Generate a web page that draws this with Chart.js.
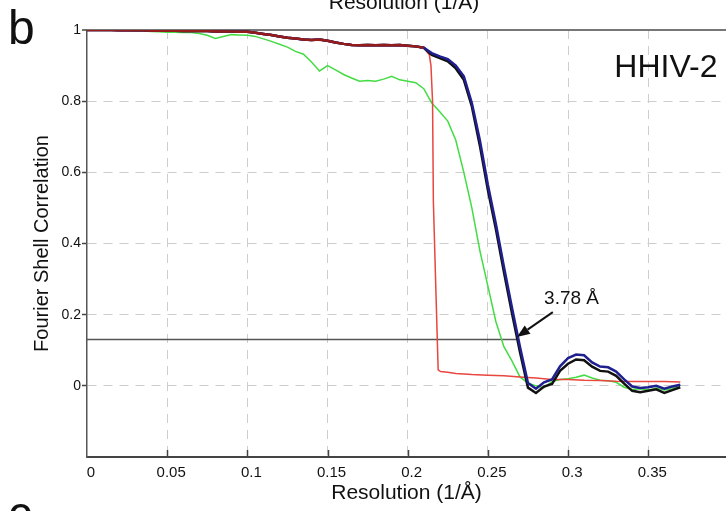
<!DOCTYPE html>
<html>
<head>
<meta charset="utf-8">
<script src="https://cdn.jsdelivr.net/npm/chart.js@4.4.0/dist/chart.umd.min.js"></script>
<style>
  html, body { margin: 0; padding: 0; background: #fff; }
  canvas { display: block; }
</style>
</head>
<body>
<canvas id="fscChart" width="726" height="511"></canvas>
<script>
// Fourier shell correlation curves
const resolution = [
  0, 0.005, 0.01, 0.015, 0.02, 0.025, 0.03, 0.035, 0.04, 0.045,
  0.05, 0.055, 0.06, 0.065, 0.07, 0.075, 0.08, 0.085, 0.09, 0.095,
  0.1, 0.105, 0.11, 0.115, 0.12, 0.125, 0.13, 0.135, 0.14, 0.145,
  0.15, 0.155, 0.16, 0.165, 0.17, 0.175, 0.18, 0.185, 0.19, 0.195,
  0.2, 0.205, 0.21, 0.215, 0.22, 0.225, 0.23, 0.235, 0.24, 0.245,
  0.25, 0.255, 0.26, 0.265, 0.27, 0.275, 0.28, 0.285, 0.29, 0.295,
  0.3, 0.305, 0.31, 0.315, 0.32, 0.325, 0.33, 0.335, 0.34, 0.345,
  0.35, 0.355, 0.36, 0.365, 0.37
];

// dark red curve, visible only up to where it joins the blue one
const fscDarkRed = [
  1.000, 1.000, 1.000, 1.000, 0.999, 0.999, 0.999, 0.999, 0.998, 0.998,
  0.998, 0.998, 0.997, 0.997, 0.997, 0.997, 0.996, 0.996, 0.996, 0.995,
  0.995, 0.992, 0.989, 0.986, 0.982, 0.978, 0.976, 0.973, 0.972, 0.973,
  0.970, 0.965, 0.961, 0.958, 0.957, 0.958, 0.957, 0.958, 0.957, 0.958,
  0.956, 0.954, 0.950
];

const fscBlue = [
  1.000, 1.000, 1.000, 1.000, 0.999, 0.999, 0.999, 0.999, 0.998, 0.998,
  0.998, 0.998, 0.997, 0.997, 0.997, 0.997, 0.996, 0.996, 0.996, 0.995,
  0.995, 0.992, 0.989, 0.986, 0.982, 0.978, 0.976, 0.973, 0.972, 0.973,
  0.970, 0.965, 0.961, 0.958, 0.957, 0.958, 0.957, 0.958, 0.957, 0.958,
  0.956, 0.954, 0.950, 0.935, 0.926, 0.918, 0.900, 0.870, 0.795, 0.690,
  0.565, 0.455, 0.335, 0.220, 0.110, 0.008, -0.008, 0.010, 0.018, 0.055,
  0.078, 0.088, 0.086, 0.066, 0.054, 0.052, 0.040, 0.018, -0.002, -0.006,
  -0.004, 0.000, -0.008, -0.002, 0.003
];

const fscBlack = [
  1.000, 1.000, 1.000, 1.000, 0.999, 0.999, 0.999, 0.999, 0.998, 0.998,
  0.998, 0.998, 0.997, 0.997, 0.997, 0.997, 0.996, 0.996, 0.996, 0.995,
  0.995, 0.992, 0.989, 0.986, 0.982, 0.978, 0.976, 0.973, 0.972, 0.973,
  0.970, 0.965, 0.961, 0.958, 0.957, 0.958, 0.957, 0.958, 0.957, 0.958,
  0.956, 0.954, 0.950, 0.930, 0.921, 0.912, 0.892, 0.860, 0.785, 0.675,
  0.550, 0.440, 0.320, 0.205, 0.095, -0.005, -0.020, -0.002, 0.005, 0.042,
  0.062, 0.074, 0.072, 0.054, 0.042, 0.040, 0.028, 0.006, -0.014, -0.018,
  -0.014, -0.010, -0.020, -0.012, -0.004
];

const fscGreen = [
  1.000, 1.000, 1.000, 1.000, 0.999, 0.999, 0.998, 0.997, 0.996, 0.995,
  0.994, 0.994, 0.993, 0.993, 0.990, 0.985, 0.976, 0.982, 0.987, 0.986,
  0.985, 0.982, 0.975, 0.968, 0.960, 0.952, 0.940, 0.932, 0.910, 0.885,
  0.900, 0.888, 0.875, 0.865, 0.856, 0.858, 0.856, 0.862, 0.870, 0.860,
  0.856, 0.852, 0.835, 0.795, 0.770, 0.744, 0.690, 0.600, 0.500, 0.380,
  0.280, 0.180, 0.110, 0.070, 0.025, 0.008, 0.000, -0.005, 0.012, 0.018,
  0.020, 0.024, 0.030, 0.022, 0.016, 0.014, 0.010, -0.004, -0.010, -0.008,
  -0.012, -0.006, -0.012, -0.008, 0.002
];

// light red curve has its own sampling around the sharp drop
const fscRedX = [
  0, 0.05, 0.1, 0.11, 0.12, 0.13, 0.14, 0.15, 0.16, 0.17,
  0.18, 0.19, 0.2, 0.21, 0.2135, 0.2145, 0.2155, 0.216, 0.2175, 0.219,
  0.2205, 0.225, 0.23, 0.24, 0.25, 0.26, 0.27, 0.28, 0.29, 0.3,
  0.31, 0.32, 0.33, 0.34, 0.35, 0.36, 0.37
];
const fscRedY = [
  1.000, 0.998, 0.995, 0.989, 0.982, 0.976, 0.972, 0.970, 0.961, 0.957,
  0.957, 0.957, 0.956, 0.950, 0.930, 0.900, 0.800, 0.520, 0.280, 0.045,
  0.040, 0.038, 0.035, 0.032, 0.030, 0.028, 0.025, 0.022, 0.018, 0.018,
  0.016, 0.015, 0.013, 0.012, 0.012, 0.012, 0.011
];

const thresholdX = [0, 0.268];
const thresholdY = [0.13, 0.13];

const xTicks = [0, 0.05, 0.1, 0.15, 0.2, 0.25, 0.3, 0.35];
const yTicks = [0, 0.2, 0.4, 0.6, 0.8, 1];

// annotation anchors (data units)
const arrowTail = { x: 0.2905, y: 0.207 };
const arrowHead = { x: 0.2681, y: 0.137 };
const resLabel = { x: 0.3022, y: 0.23, text: "3.78 Å" };
const sampleLabel = { x: 0.361, y: 0.8687, text: "HHIV-2" };

const fontFamily = "'Liberation Sans', Arial, Helvetica, sans-serif";

function toPoints(xs, ys) {
  return ys.map(function (y, i) {
    return { x: xs[i], y: y };
  });
}

// inside tick marks on the x axis plus the texts and the arrow
const decorations = {
  id: "decorations",
  afterDatasetsDraw(chart) {
    const { ctx, scales } = chart;
    const x = scales.x;
    const y = scales.y;

    ctx.save();
    ctx.strokeStyle = "#444";
    ctx.lineWidth = 1.5;
    xTicks.forEach(function (v) {
      if (v === 0) return;
      const px = Math.round(x.getPixelForValue(v)) + 0.5;
      ctx.beginPath();
      ctx.moveTo(px, y.bottom);
      ctx.lineTo(px, y.bottom - 7);
      ctx.stroke();
    });
    ctx.restore();
  },
  afterDraw(chart) {
    const { ctx, scales } = chart;
    const x = scales.x;
    const y = scales.y;

    ctx.save();
    ctx.fillStyle = "#111";
    ctx.textBaseline = "alphabetic";

    // panel letters and the title cut off from the panel above
    ctx.font = "48px " + fontFamily;
    ctx.textAlign = "left";
    ctx.fillText("b", 8, 44);
    ctx.fillText("c", 8, 530);

    ctx.font = "21px " + fontFamily;
    ctx.textAlign = "center";
    ctx.fillText("Resolution (1/Å)", 404, 9);

    // sample name
    ctx.font = "32px " + fontFamily;
    ctx.fillText(sampleLabel.text, x.getPixelForValue(sampleLabel.x), y.getPixelForValue(sampleLabel.y));

    // resolution label with arrow
    ctx.font = "19px " + fontFamily;
    ctx.fillText(resLabel.text, x.getPixelForValue(resLabel.x), y.getPixelForValue(resLabel.y));

    const tx = x.getPixelForValue(arrowTail.x);
    const ty = y.getPixelForValue(arrowTail.y);
    const hx = x.getPixelForValue(arrowHead.x);
    const hy = y.getPixelForValue(arrowHead.y);
    const ang = Math.atan2(hy - ty, hx - tx);
    const len = 13;
    const half = 5;
    const bx = hx - len * Math.cos(ang);
    const by = hy - len * Math.sin(ang);

    ctx.strokeStyle = "#111";
    ctx.lineWidth = 2;
    ctx.beginPath();
    ctx.moveTo(tx, ty);
    ctx.lineTo(bx, by);
    ctx.stroke();

    ctx.beginPath();
    ctx.moveTo(hx, hy);
    ctx.lineTo(bx + half * Math.sin(ang), by - half * Math.cos(ang));
    ctx.lineTo(bx - half * Math.sin(ang), by + half * Math.cos(ang));
    ctx.closePath();
    ctx.fill();
    ctx.restore();
  },
};

const ctx = document.getElementById("fscChart").getContext("2d");

new Chart(ctx, {
  type: "line",
  data: {
    datasets: [
      {
        label: "dark red",
        data: toPoints(resolution, fscDarkRed),
        borderColor: "#961c1c",
        borderWidth: 2.5,
      },
      {
        label: "blue",
        data: toPoints(resolution, fscBlue),
        borderColor: "#1f1f8f",
        borderWidth: 2.5,
      },
      {
        label: "black",
        data: toPoints(resolution, fscBlack),
        borderColor: "#111111",
        borderWidth: 2.5,
      },
      {
        label: "red",
        data: toPoints(fscRedX, fscRedY),
        borderColor: "#e8463f",
        borderWidth: 1.5,
      },
      {
        label: "green",
        data: toPoints(resolution, fscGreen),
        borderColor: "#43dc43",
        borderWidth: 1.5,
      },
      {
        label: "threshold",
        data: toPoints(thresholdX, thresholdY),
        borderColor: "#555555",
        borderWidth: 1.5,
      },
    ],
  },
  options: {
    responsive: false,
    animation: false,
    events: [],
    layout: {
      padding: { top: 30, right: 0, bottom: 0, left: 0 },
    },
    elements: {
      point: { radius: 0 },
      line: { tension: 0 },
    },
    plugins: {
      legend: { display: false },
      tooltip: { enabled: false },
    },
    scales: {
      x: {
        type: "linear",
        min: 0,
        max: 0.3985,
        afterBuildTicks: function (scale) {
          scale.ticks = xTicks.map(function (v) { return { value: v }; });
        },
        afterFit: function (scale) {
          scale.height = 54;
        },
        grid: {
          drawTicks: false,
          color: function (c) {
            return c.tick && c.tick.value === 0 ? "rgba(0,0,0,0)" : "#cdcdcd";
          },
          lineWidth: 1,
        },
        border: {
          display: true,
          color: "#444",
          width: 2,
          dash: [9, 7],
        },
        ticks: {
          autoSkip: false,
          maxRotation: 0,
          padding: 7,
          labelOffset: 4,
          color: "#111",
          font: { family: fontFamily, size: 15 },
          callback: function (value) {
            return String(value);
          },
        },
        title: {
          display: true,
          text: "Resolution (1/Å)",
          color: "#111",
          font: { family: fontFamily, size: 21 },
          padding: { top: 0, bottom: 5.5 },
        },
      },
      y: {
        min: -0.2,
        max: 1,
        afterBuildTicks: function (scale) {
          scale.ticks = yTicks.map(function (v) { return { value: v }; });
        },
        afterFit: function (scale) {
          scale.width = 87;
        },
        grid: {
          color: function (c) {
            return c.tick && c.tick.value === 1 ? "#777" : "#cdcdcd";
          },
          lineWidth: function (c) {
            return c.tick && c.tick.value === 1 ? 2 : 1;
          },
          drawTicks: true,
          tickLength: 5,
          tickColor: "#444",
          tickWidth: 1.5,
        },
        border: {
          display: true,
          color: "#555",
          width: 1.5,
          dash: function (c) {
            return c.tick && c.tick.value === 1 ? [] : [9, 7];
          },
        },
        ticks: {
          padding: 1,
          color: "#111",
          font: { family: fontFamily, size: 14 },
          callback: function (value) {
            return String(value);
          },
        },
        title: {
          display: true,
          text: "Fourier Shell Correlation",
          color: "#111",
          font: { family: fontFamily, size: 20 },
          padding: { top: 30.5, bottom: 0 },
        },
      },
    },
  },
  plugins: [decorations],
});
</script>
</body>
</html>
